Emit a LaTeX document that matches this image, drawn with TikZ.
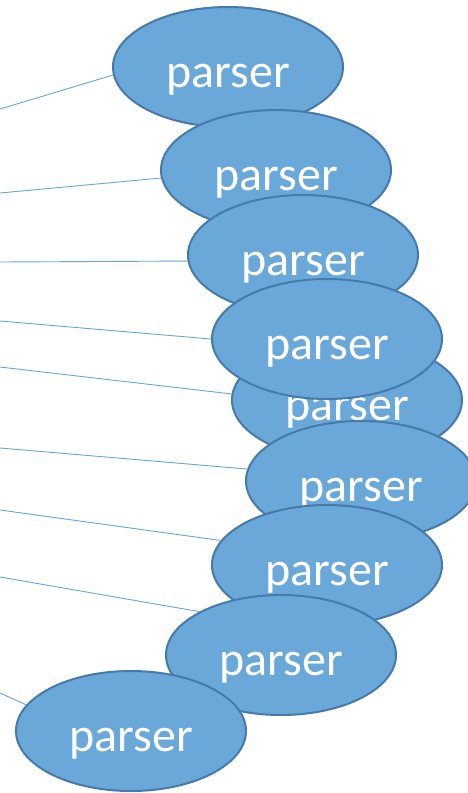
\documentclass[tikz,border=0pt]{standalone}
\usepackage{fontspec}
\setmainfont{Carlito}
\usepackage{tikz}
\usetikzlibrary{shapes.geometric}

\definecolor{parserfill}{RGB}{107,168,218}
\definecolor{parserline}{RGB}{70,122,168}
\definecolor{feedline}{RGB}{100,165,220}

\begin{document}
\begin{tikzpicture}[x=1pt,y=-1pt,
  parserbox/.style={ellipse,draw=parserline,line width=2pt,fill=parserfill,
    minimum width=230pt,minimum height=120pt,inner sep=0pt,
    text=white,font=\fontsize{48}{52}\selectfont,
    text height=41pt,text depth=0pt},
  feed/.style={draw=feedline,line width=0.9pt}]
  \useasboundingbox (0,0) rectangle (468,793);
  % the parsers, back to front
  \node[parserbox] (p1) at (228,67)  {parser};
  \node[parserbox] (p2) at (276,170) {parser};
  \node[parserbox] (p3) at (303,255) {parser};
  \node[parserbox] (p5) at (347,400) {parser};
  \node[parserbox] (p4) at (327,339) {parser};
  \node[parserbox] (p6) at (361,481) {parser};
  \node[parserbox] (p7) at (327,565) {parser};
  \node[parserbox] (p8) at (281,655) {parser};
  \node[parserbox] (p9) at (131,731) {parser};
  % inputs coming in from the left
  \coordinate (s1) at (0,109);
  \coordinate (s2) at (0,193);
  \coordinate (s3) at (0,262);
  \coordinate (s4) at (0,321);
  \coordinate (s5) at (0,367);
  \coordinate (s6) at (0,448);
  \coordinate (s7) at (0,510);
  \coordinate (s8) at (0,577);
  \coordinate (s9) at (0,693);
  \draw[feed] (s1) -- (p1.184);
  \draw[feed] (s2) -- (p2.184.5);
  \draw[feed] (s3) -- (p3.183.5);
  \draw[feed] (s4) -- (p4.180.5);
  \draw[feed] (s5) -- (p5.177.5);
  \draw[feed] (s6) -- (p6.174.5);
  \draw[feed] (s7) -- (p7.167);
  \draw[feed] (s8) -- (p8.152);
  \draw[feed] (s9) -- (p9.166.5);
\end{tikzpicture}
\end{document}
